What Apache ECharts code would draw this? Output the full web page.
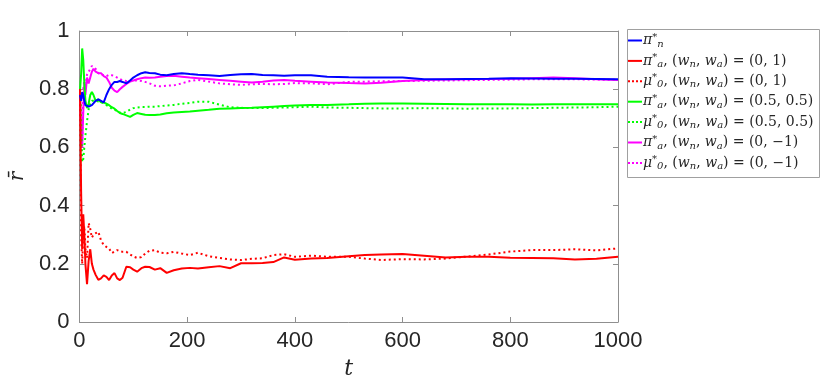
<!DOCTYPE html>
<html>
<head>
<meta charset="utf-8">
<script src="https://cdn.jsdelivr.net/npm/echarts@6/dist/echarts.min.js"></script>
<style>html,body{margin:0;padding:0;background:#fff}#c{width:830px;height:387px}</style>
</head>
<body>
<div id="c"></div>
<script>
// ---- data ----
const tGrid = [1,3,5,7,9,11,14,17,20,23,26,30,35,40,45,50,55,60,65,70,75,80,87,94,100,107,115,122,130,140,150,162,175,190,205,220,240,260,280,300,320,340,360,380,400,430,460,500,530,560,600,640,680,720,760,800,840,880,920,960,1000];

const piN = [0.78,0.76,0.79,0.78,0.76,0.745,0.742,0.74,0.742,0.745,0.75,0.76,0.765,0.76,0.755,0.78,0.80,0.815,0.825,0.825,0.828,0.825,0.82,0.83,0.84,0.848,0.855,0.858,0.856,0.855,0.85,0.848,0.852,0.855,0.852,0.85,0.848,0.845,0.849,0.851,0.852,0.849,0.848,0.846,0.848,0.848,0.843,0.841,0.840,0.840,0.840,0.834,0.834,0.835,0.836,0.838,0.837,0.836,0.836,0.835,0.834];

const piA_01 = [0.80,0.45,0.25,0.37,0.30,0.20,0.13,0.21,0.25,0.20,0.18,0.162,0.145,0.15,0.16,0.155,0.144,0.16,0.168,0.15,0.144,0.152,0.19,0.188,0.18,0.173,0.185,0.19,0.189,0.18,0.185,0.169,0.178,0.184,0.186,0.184,0.188,0.192,0.185,0.202,0.202,0.203,0.206,0.222,0.214,0.218,0.22,0.226,0.23,0.232,0.234,0.228,0.222,0.224,0.224,0.221,0.220,0.219,0.215,0.217,0.224];

const mu0_01 = [0.80,0.30,0.20,0.30,0.33,0.25,0.22,0.34,0.32,0.29,0.30,0.305,0.31,0.28,0.265,0.258,0.252,0.237,0.242,0.247,0.243,0.241,0.241,0.232,0.225,0.22,0.223,0.235,0.245,0.247,0.238,0.236,0.241,0.235,0.23,0.238,0.226,0.22,0.215,0.213,0.217,0.219,0.23,0.233,0.224,0.228,0.224,0.224,0.218,0.213,0.216,0.215,0.218,0.225,0.232,0.242,0.247,0.247,0.25,0.246,0.253];

const piA_55 = [0.80,0.85,0.94,0.90,0.82,0.76,0.735,0.75,0.78,0.79,0.78,0.76,0.765,0.755,0.755,0.75,0.745,0.738,0.733,0.725,0.718,0.715,0.71,0.705,0.712,0.718,0.715,0.712,0.711,0.711,0.713,0.717,0.72,0.722,0.723,0.726,0.729,0.733,0.734,0.735,0.736,0.738,0.740,0.742,0.744,0.746,0.746,0.748,0.75,0.751,0.751,0.750,0.749,0.748,0.748,0.748,0.747,0.748,0.748,0.748,0.748];

const mu0_55 = [0.80,0.70,0.55,0.56,0.60,0.64,0.69,0.73,0.75,0.76,0.765,0.76,0.758,0.755,0.752,0.745,0.74,0.733,0.73,0.725,0.72,0.718,0.722,0.73,0.735,0.737,0.739,0.739,0.74,0.74,0.742,0.744,0.746,0.75,0.753,0.757,0.757,0.747,0.738,0.736,0.735,0.735,0.736,0.737,0.738,0.74,0.737,0.736,0.735,0.734,0.734,0.735,0.734,0.733,0.734,0.734,0.735,0.736,0.737,0.738,0.740];

const piA_0m1 = [0.80,0.65,0.60,0.72,0.82,0.78,0.84,0.82,0.84,0.86,0.87,0.86,0.855,0.855,0.845,0.84,0.825,0.805,0.795,0.79,0.80,0.808,0.818,0.826,0.83,0.834,0.838,0.84,0.839,0.840,0.843,0.845,0.846,0.843,0.840,0.838,0.835,0.832,0.829,0.826,0.823,0.826,0.830,0.832,0.829,0.826,0.823,0.821,0.820,0.822,0.828,0.832,0.833,0.834,0.835,0.836,0.838,0.840,0.838,0.834,0.832];

const mu0_0m1 = [0.80,0.70,0.62,0.80,0.83,0.81,0.85,0.86,0.87,0.88,0.885,0.87,0.855,0.85,0.848,0.845,0.85,0.848,0.845,0.84,0.835,0.83,0.828,0.83,0.83,0.83,0.828,0.825,0.82,0.812,0.81,0.812,0.813,0.82,0.828,0.832,0.826,0.82,0.817,0.815,0.817,0.818,0.817,0.818,0.821,0.82,0.817,0.825,0.826,0.827,0.828,0.829,0.830,0.831,0.832,0.833,0.834,0.834,0.834,0.833,0.832];

const xTicks = [0, 200, 400, 600, 800, 1000];
const yTicks = [0, 0.2, 0.4, 0.6, 0.8, 1];

const seriesNames = ['pi_n','pi_a_01','mu_0_01','pi_a_55','mu_0_55','pi_a_0m1','mu_0_0m1'];
const seriesValues = [piN, piA_01, mu0_01, piA_55, mu0_55, piA_0m1, mu0_0m1];
const seriesColors = ['#0000ff','#ff0000','#ff0000','#00ff00','#00ff00','#ff00ff','#ff00ff'];
const seriesDotted = [false,false,true,false,true,false,true];
// legend label pieces: [symbol, superscript, subscript, tail]
const legendParts = [
  ['π','*','n',''],
  ['π','*','a','(0, 1)'],
  ['μ','*','0','(0, 1)'],
  ['π','*','a','(0.5, 0.5)'],
  ['μ','*','0','(0.5, 0.5)'],
  ['π','*','a','(0, −1)'],
  ['μ','*','0','(0, −1)']
];

// ---- chart ----
const chart = echarts.init(document.getElementById('c'), null, {renderer: 'canvas'});
const axisGray = '#8f8f8f';
const labelColor = '#262626';
const tickFont = 'Liberation Sans, Arial, sans-serif';
const mathFont = 'DejaVu Serif, serif';

function legendRich(p) {
  let s = '{m|' + p[0] + '}{sup|' + p[1] + '}{sub|' + p[2] + '}';
  if (p[3]) {
    s += '{r|, (}{m|w}{sub|n}{r|, }{m|w}{sub|a}{r|) = ' + p[3] + '}';
  }
  return s;
}
const legendMap = {};
seriesNames.forEach((n, i) => legendMap[n] = legendRich(legendParts[i]));

const solidIcon = 'path://M0,0h14v2h-14z';
const dottedIcon = 'path://M0,0h2v2h-2z M4,0h2v2h-2z M8,0h2v2h-2z M12,0h2v2h-2z';

const series = seriesNames.map((n, i) => ({
  name: n,
  type: 'line',
  symbol: 'none',
  showSymbol: false,
  animation: false,
  xAxisIndex: 0,
  yAxisIndex: 0,
  data: tGrid.map((t, k) => [t, seriesValues[i][k]]),
  lineStyle: {color: seriesColors[i], width: 2, type: seriesDotted[i] ? [2, 3] : 'solid'},
  itemStyle: {color: seriesColors[i]},
  z: 10 - i
}));

const option = {
  animation: false,
  backgroundColor: '#ffffff',
  grid: {left: 63, right: 212, top: 31, bottom: 65, containLabel: false},
  xAxis: [{
    type: 'value', min: 0, max: 1000, interval: 200, position: 'bottom',
    name: 't', nameLocation: 'middle', nameGap: 36,
    nameTextStyle: {fontFamily: mathFont, fontStyle: 'italic', fontSize: 22, color: labelColor},
    axisLine: {show: true, onZero: false, lineStyle: {color: axisGray, width: 1}},
    axisTick: {show: true, inside: true, length: 5, lineStyle: {color: axisGray}},
    axisLabel: {fontFamily: tickFont, fontSize: 22, color: labelColor, margin: 8,
      formatter: v => xTicks.indexOf(v) >= 0 ? String(v) : ''},
    splitLine: {show: false}
  }, {
    type: 'value', min: 0, max: 1000, interval: 200, position: 'top',
    axisLine: {show: true, onZero: false, lineStyle: {color: axisGray, width: 1}},
    axisTick: {show: true, inside: true, length: 5, lineStyle: {color: axisGray}},
    axisLabel: {show: false}, splitLine: {show: false}
  }],
  yAxis: [{
    type: 'value', min: 0, max: 1, interval: 0.2, position: 'left',
    name: 'r̄', nameLocation: 'middle', nameGap: 38, nameRotate: 90,
    nameTextStyle: {fontFamily: mathFont, fontStyle: 'italic', fontSize: 20, color: labelColor},
    axisLine: {show: true, onZero: false, lineStyle: {color: axisGray, width: 1}},
    axisTick: {show: true, inside: true, length: 5, lineStyle: {color: axisGray}},
    axisLabel: {fontFamily: tickFont, fontSize: 22, color: labelColor, margin: 10,
      formatter: v => { const t = yTicks.find(y => Math.abs(y - v) < 1e-9); return t === undefined ? '' : String(t); }},
    splitLine: {show: false}
  }, {
    type: 'value', min: 0, max: 1, interval: 0.2, position: 'right',
    axisLine: {show: true, onZero: false, lineStyle: {color: axisGray, width: 1}},
    axisTick: {show: true, inside: true, length: 5, lineStyle: {color: axisGray}},
    axisLabel: {show: false}, splitLine: {show: false}
  }],
  legend: {
    orient: 'vertical', left: 628, top: 32, padding: 0,
    itemWidth: 14, itemHeight: 2, itemGap: 3.4,
    data: seriesNames.map((n, i) => ({
      name: n,
      icon: seriesDotted[i] ? dottedIcon : solidIcon,
      itemStyle: {color: seriesColors[i], borderWidth: 0},
      lineStyle: {width: 0}
    })),
    formatter: name => legendMap[name],
    selectedMode: false,
    textStyle: {
      color: labelColor, padding: [0, 0, 0, -4],
      rich: {
        m: {fontFamily: mathFont, fontStyle: 'italic', fontSize: 14, color: labelColor, lineHeight: 17},
        r: {fontFamily: mathFont, fontSize: 14, color: labelColor, lineHeight: 17},
        sup: {fontFamily: mathFont, fontSize: 10, color: labelColor, verticalAlign: 'top', lineHeight: 10},
        sub: {fontFamily: mathFont, fontStyle: 'italic', fontSize: 10, color: labelColor, verticalAlign: 'bottom', lineHeight: 10}
      }
    }
  },
  graphic: [{
    type: 'rect', left: 627, top: 29, z: 0, silent: true,
    shape: {width: 192, height: 148},
    style: {fill: '#ffffff', stroke: '#a0a0a0', lineWidth: 1}
  }],
  series: series
};
chart.setOption(option);
</script>
</body>
</html>
